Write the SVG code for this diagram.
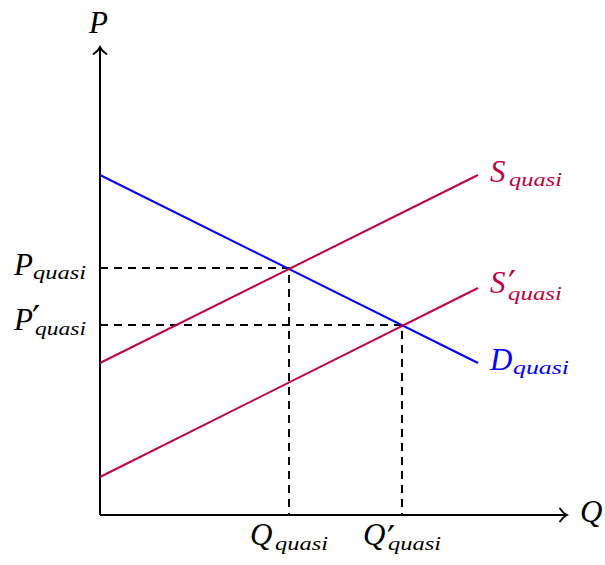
<svg xmlns="http://www.w3.org/2000/svg" width="605" height="565" viewBox="0 0 605 565">
<defs>
<style>
.ax{stroke:#000;stroke-width:2;fill:none}
.dash{stroke:#000;stroke-width:2;fill:none;stroke-dasharray:8 6}
.sup{stroke:#BF0040;stroke-width:2;fill:none}
.dem{stroke:#0000FF;stroke-width:2;fill:none}
text{font-family:"Liberation Serif","Times New Roman",serif;font-style:italic;font-size:31px}
.sub{font-size:19px}
.pr{font-family:"DejaVu Serif",serif;font-style:normal;font-size:36px}
.red{fill:#BF0040}
.blue{fill:#0000FF}
</style>
<marker id="arr" markerUnits="userSpaceOnUse" markerWidth="20" markerHeight="20" refX="0" refY="0" viewBox="-10 -10 20 20" orient="auto" overflow="visible">
<path d="M-7,-6.5 C-5,-3 -2,-1 0,0 C-2,1 -5,3 -7,6.5" stroke="#000" stroke-width="1.8" fill="none" stroke-linecap="round"/>
</marker>
</defs>
<g id="connectors">
<path class="dash" d="M100,268 H289 V515"/>
<path class="dash" d="M100,325 H402 V515"/>
<path id="axis-p" class="ax" d="M100,515 V47" marker-end="url(#arr)"/>
<path id="axis-q" class="ax" d="M100,515 H567" marker-end="url(#arr)"/>
</g>
<g id="demand"><line class="dem" x1="100" y1="175" x2="478" y2="363"/></g>
<g id="supply"><line class="sup" x1="100" y1="363" x2="478" y2="175"/></g>
<g id="supply2"><line class="sup" x1="100" y1="477" x2="478" y2="288"/></g>
<g id="label-P"><text x="89" y="33">P</text></g>
<g id="label-Q"><text x="580" y="522">Q</text></g>
<g id="label-Pq"><text x="14" y="275">P<tspan class="sub" x="33" y="279" textLength="53" lengthAdjust="spacingAndGlyphs">quasi</tspan></text></g>
<g id="label-Pq2"><text x="14" y="330">P<tspan class="pr" x="32" y="331">′</tspan><tspan class="sub" x="35" y="335" textLength="51" lengthAdjust="spacingAndGlyphs">quasi</tspan></text></g>
<g id="label-Qq"><text x="250" y="545">Q<tspan class="sub" x="275" y="550" textLength="53" lengthAdjust="spacingAndGlyphs">quasi</tspan></text></g>
<g id="label-Qq2"><text x="363" y="545">Q<tspan class="pr" x="387" y="551">′</tspan><tspan class="sub" x="388" y="550" textLength="53" lengthAdjust="spacingAndGlyphs">quasi</tspan></text></g>
<g id="label-S"><text class="red" x="490" y="182">S<tspan class="sub" x="509" y="186" textLength="53" lengthAdjust="spacingAndGlyphs">quasi</tspan></text></g>
<g id="label-S2"><text class="red" x="490" y="293">S<tspan class="pr" x="508" y="296">′</tspan><tspan class="sub" x="508" y="300" textLength="54" lengthAdjust="spacingAndGlyphs">quasi</tspan></text></g>
<g id="label-D"><text class="blue" x="490" y="370">D<tspan class="sub" x="513" y="374" textLength="56" lengthAdjust="spacingAndGlyphs">quasi</tspan></text></g>
</svg>
